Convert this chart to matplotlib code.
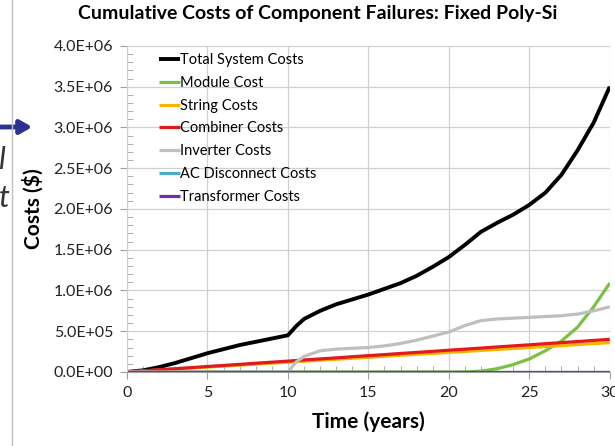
import numpy as np
import matplotlib.pyplot as plt
from matplotlib.ticker import MultipleLocator

plt.rcParams['font.family'] = ['Lato', 'DejaVu Sans']

# values in millions of $
years = [0, 1, 2, 3, 4, 5, 6, 7, 8, 9, 10, 10.5, 11, 12, 13, 14, 15, 16, 17, 18,
         19, 20, 21, 22, 23, 24, 25, 26, 27, 28, 29, 30]
total = [0, 0.02, 0.06, 0.11, 0.17, 0.23, 0.28, 0.33, 0.37, 0.41, 0.45, 0.56, 0.65,
         0.75, 0.83, 0.89, 0.95, 1.02, 1.09, 1.18, 1.29, 1.41, 1.56, 1.72, 1.83,
         1.93, 2.05, 2.20, 2.42, 2.72, 3.06, 3.50]
module = [0, 0, 0, 0, 0, 0, 0, 0, 0, 0, 0, 0, 0, 0, 0, 0, 0, 0, 0, 0,
          0, 0, 0, 0.01, 0.04, 0.09, 0.16, 0.26, 0.38, 0.55, 0.80, 1.09]
string = [0, 0.012, 0.024, 0.036, 0.048, 0.06, 0.072, 0.084, 0.096, 0.108, 0.12,
          0.126, 0.132, 0.144, 0.156, 0.168, 0.18, 0.192, 0.204, 0.216, 0.228, 0.24,
          0.252, 0.264, 0.276, 0.288, 0.30, 0.312, 0.324, 0.336, 0.348, 0.36]
combiner = [0, 0.013, 0.027, 0.04, 0.053, 0.067, 0.08, 0.093, 0.107, 0.12, 0.133,
            0.14, 0.147, 0.16, 0.173, 0.187, 0.2, 0.213, 0.227, 0.24, 0.253, 0.267,
            0.28, 0.293, 0.307, 0.32, 0.333, 0.347, 0.36, 0.373, 0.387, 0.40]
inverter = [0, 0, 0, 0, 0, 0, 0, 0, 0, 0, 0, 0.12, 0.19, 0.26, 0.28, 0.29, 0.30,
            0.32, 0.35, 0.39, 0.44, 0.49, 0.57, 0.63, 0.65, 0.66, 0.67, 0.68, 0.69,
            0.71, 0.75, 0.80]
ac_disc = [0] * len(years)
transformer = [0] * len(years)

series = [
    ("Total System Costs", total, "black", 2.8),
    ("Module Cost", module, "#7ac143", 2.3),
    ("String Costs", string, "#f7b500", 2.3),
    ("Combiner Costs", combiner, "#e31a1c", 2.3),
    ("Inverter Costs", inverter, "#bfbfbf", 2.3),
    ("AC Disconnect Costs", ac_disc, "#4bacc6", 2.3),
    ("Transformer Costs", transformer, "#7030a0", 2.3),
]

fig = plt.figure(figsize=(6.15, 4.46), dpi=100)
ax = fig.add_axes([0.2065, 0.166, 0.785, 0.731])

for name, vals, col, lw in series:
    ax.plot(years, np.array(vals) * 1e6, color=col, lw=lw, label=name,
            solid_capstyle='butt')

ax.set_xlim(0, 30)
ax.set_ylim(0, 4.0e6)
ax.xaxis.set_major_locator(MultipleLocator(5))
ax.xaxis.set_minor_locator(MultipleLocator(1))
ax.yaxis.set_major_locator(MultipleLocator(0.5e6))
ax.yaxis.set_minor_locator(MultipleLocator(0.1e6))


def fmt(v, p):
    if v == 0:
        return "0.0E+00"
    if v < 1e6:
        return "%.1fE+05" % (v / 1e5)
    return "%.1fE+06" % (v / 1e6)


ax.yaxis.set_major_formatter(plt.FuncFormatter(fmt))
ax.grid(True, which='major', color='#d0d0d0', lw=0.9)
ax.set_axisbelow(True)
for s in ['top', 'right']:
    ax.spines[s].set_visible(False)
ax.spines['left'].set_color('#d0d0d0')
ax.spines['bottom'].set_color('#a0a0a0')
ax.tick_params(which='major', direction='out', length=5, color='#a0a0a0',
               labelsize=11.5, labelcolor='#222222', pad=5)
ax.tick_params(which='minor', direction='in', length=4, color='#a0a0a0')

fig.text(318 / 615, 1 - 14 / 446,
         "Cumulative Costs of Component Failures: Fixed Poly-Si",
         fontsize=14, fontweight='bold', ha='center', va='center')
ax.set_xlabel("Time (years)", fontsize=15, fontweight='bold', labelpad=8)
ax.set_ylabel("Costs ($)", fontsize=15, fontweight='bold', labelpad=7)

ax.legend(loc='upper left', bbox_to_anchor=(0.066, 0.978), frameon=False,
          fontsize=10.5, handlelength=1.45, handletextpad=0.0, labelspacing=0.6,
          borderaxespad=0, borderpad=0)

# pieces of the slide around the chart
fig.add_artist(plt.Line2D([12 / 615, 12 / 615], [0, 1], color='#c0c0c0', lw=1))
ax.annotate("", xy=(35 / 615, 1 - 127 / 446), xytext=(-2 / 615, 1 - 127 / 446),
            xycoords='figure fraction', textcoords='figure fraction',
            arrowprops=dict(arrowstyle='-|>,head_length=0.7,head_width=0.4',
                            color='#2e3192', lw=3.5))
fig.text(-2 / 615, 1 - 160 / 446, "l", fontsize=22, style='italic', va='center',
         color='#333333')
fig.text(-1 / 615, 1 - 198 / 446, "t", fontsize=22, style='italic', va='center',
         color='#333333')

fig.savefig("out.png", dpi=100)
